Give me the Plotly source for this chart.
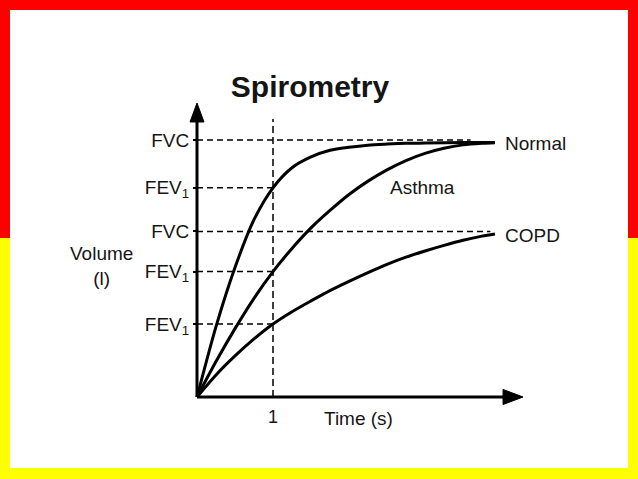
import plotly.graph_objects as go

# ---------------- data ----------------
# time (s) and volume (l) points along each curve
normal_t = [0, 0.25, 0.5, 0.75, 1.0, 1.25, 1.5, 1.75, 2.0, 2.25, 2.5, 2.75, 3.0, 3.5, 3.92]
normal_v = [0, 1.37, 2.52, 3.45, 4.07, 4.46, 4.67, 4.80, 4.86, 4.90, 4.92, 4.935, 4.94, 4.95, 4.95]

asthma_t = [0, 0.25, 0.5, 0.75, 1.0, 1.25, 1.5, 1.75, 2.0, 2.25, 2.5, 2.75, 3.0, 3.25, 3.5, 3.75, 3.92]
asthma_v = [0, 0.69, 1.33, 1.92, 2.44, 2.89, 3.29, 3.63, 3.94, 4.20, 4.42, 4.60, 4.74, 4.84, 4.905, 4.935, 4.945]

copd_t = [0, 0.25, 0.5, 0.75, 1.0, 1.25, 1.5, 1.75, 2.0, 2.25, 2.5, 2.75, 3.0, 3.25, 3.5, 3.75, 3.92]
copd_v = [0, 0.43, 0.80, 1.13, 1.42, 1.66, 1.87, 2.07, 2.25, 2.42, 2.58, 2.72, 2.84, 2.95, 3.05, 3.13, 3.17]

# reference levels on the volume axis
level_labels = ["FVC", "FEV<sub>1</sub>", "FVC", "FEV<sub>1</sub>", "FEV<sub>1</sub>"]
level_values = [5.0, 4.07, 3.22, 2.44, 1.42]
level_ends = [3.60, 1.0, 3.86, 1.0, 1.0]   # time where each dashed guide stops

time_ticks = [1]
time_tick_labels = ["1"]
fev_time = 1
fev_line_top = 5.41

curve_names = ["Normal", "Asthma", "COPD"]
curve_label_t = [4.03, 2.51, 4.03]
curve_label_v = [4.94, 4.07, 3.15]

x_axis_end = 4.29
y_axis_end = 5.72

# ---------------- figure ----------------
W, H = 638, 479
X0_PX, Y0_PX = 197, 397      # pixel position of the origin
PX_PER_S, PX_PER_L = 76.0, 51.4

xr = [-X0_PX / PX_PER_S, (W - X0_PX) / PX_PER_S]
yr = [-(H - Y0_PX) / PX_PER_L, Y0_PX / PX_PER_L]

FONT = "Liberation Sans, Arial, Helvetica, sans-serif"
TXT = "#151515"
fig = go.Figure()

# dashed guides
for v, e in zip(level_values, level_ends):
    fig.add_trace(go.Scatter(x=[0, e], y=[v, v], mode="lines",
                             line=dict(color="black", width=1.5, dash="6px,4px"),
                             hoverinfo="skip", showlegend=False))
fig.add_trace(go.Scatter(x=[fev_time, fev_time], y=[0, fev_line_top], mode="lines",
                         line=dict(color="black", width=1.5, dash="7px,4px"),
                         hoverinfo="skip", showlegend=False))

# curves
for t, v in [(normal_t, normal_v), (asthma_t, asthma_v), (copd_t, copd_v)]:
    fig.add_trace(go.Scatter(x=t, y=v, mode="lines",
                             line=dict(color="black", width=3, shape="spline", smoothing=0.8),
                             hoverinfo="skip", showlegend=False))

shapes = [
    # background: yellow paper, red upper band, white panel
    dict(type="rect", xref="paper", yref="paper", x0=0, x1=1, y0=1 - 238 / H, y1=1,
         fillcolor="#ff0000", line=dict(width=0), layer="below"),
    dict(type="rect", xref="paper", yref="paper", x0=10 / W, x1=628 / W, y0=1 - 468 / H, y1=1 - 10 / H,
         fillcolor="white", line=dict(width=0), layer="below"),
    # axis lines
    dict(type="line", xref="x", yref="y", x0=0, y0=0, x1=x_axis_end - 0.1, y1=0,
         line=dict(color="black", width=3)),
    dict(type="line", xref="x", yref="y", x0=0, y0=0, x1=0, y1=y_axis_end - 0.2,
         line=dict(color="black", width=3)),
    # arrow heads
    dict(type="path", xref="x", yref="y", xsizemode="pixel", ysizemode="pixel",
         xanchor=x_axis_end, yanchor=0, path="M0,0 L-20,-7.5 L-20,7.5 Z",
         fillcolor="black", line=dict(color="black", width=1)),
    dict(type="path", xref="x", yref="y", xsizemode="pixel", ysizemode="pixel",
         xanchor=0, yanchor=y_axis_end, path="M0,0 L-7,-19 L7,-19 Z",
         fillcolor="black", line=dict(color="black", width=1)),
]

annotations = []
for name, t, v in zip(curve_names, curve_label_t, curve_label_v):
    annotations.append(dict(x=t, y=v, xref="x", yref="y", text=name, showarrow=False,
                            xanchor="left", yanchor="middle",
                            font=dict(family=FONT, size=19, color=TXT)))
annotations.append(dict(x=(101 - X0_PX) / PX_PER_S, y=2.55, xref="x", yref="y",
                        text="Volume<br>(l)", showarrow=False, xanchor="center", yanchor="middle",
                        font=dict(family=FONT, size=19, color=TXT)))
annotations.append(dict(x=2.13, y=-0.41, xref="x", yref="y", text="Time (s)", showarrow=False,
                        xanchor="center", yanchor="middle",
                        font=dict(family=FONT, size=19, color=TXT)))

fig.update_layout(
    width=W, height=H, margin=dict(l=0, r=0, t=0, b=0),
    paper_bgcolor="#ffff00", plot_bgcolor="rgba(0,0,0,0)",
    title=dict(text="<b>Spirometry</b>", x=310 / W, y=1 - 86 / H, xanchor="center", yanchor="middle",
               font=dict(family=FONT, size=30, color=TXT)),
    xaxis=dict(range=xr, anchor="free", position=1 - Y0_PX / H, showgrid=False, zeroline=False,
               showline=False, tickvals=time_ticks, ticktext=time_tick_labels,
               ticks="outside", ticklen=3, tickcolor="rgba(0,0,0,0)",
               tickfont=dict(family=FONT, size=18, color=TXT), fixedrange=True),
    yaxis=dict(range=yr, anchor="free", position=X0_PX / W, showgrid=False, zeroline=False,
               showline=False, tickvals=level_values, ticktext=level_labels,
               ticks="outside", ticklen=4, tickwidth=1.5, tickcolor="black",
               tickfont=dict(family=FONT, size=19, color=TXT), fixedrange=True),
    shapes=shapes, annotations=annotations, showlegend=False,
)

fig.write_html("out.html", config={"displayModeBar": False},
               post_script="document.body.style.margin='0';document.body.style.overflow='hidden';")
